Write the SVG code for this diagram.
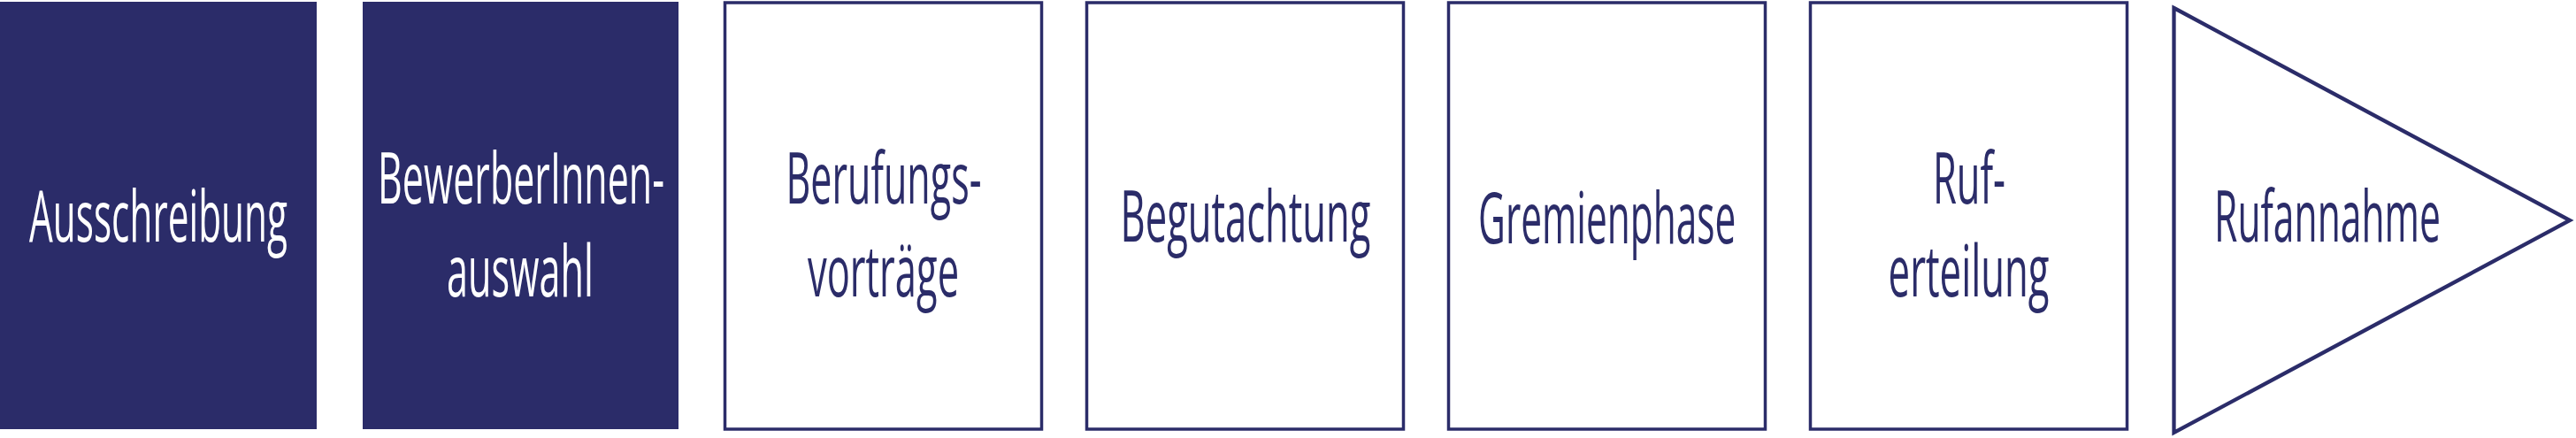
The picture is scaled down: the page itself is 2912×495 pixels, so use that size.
<svg xmlns="http://www.w3.org/2000/svg" width="2912" height="495" viewBox="0 0 2912 495">
<style>
.fill{fill:#2b2c69;stroke:none}
.box{fill:#ffffff;stroke:#2b2c69;stroke-width:3.5}
.tri{fill:#ffffff;stroke:#2b2c69;stroke-width:4.3;stroke-linejoin:miter;stroke-miterlimit:10}
text{font-family:"Open Sans","Noto Sans","DejaVu Sans",sans-serif;font-size:80px;text-anchor:middle}
.w{fill:#ffffff}
.d{fill:#2b2c69}
</style>
<rect x="0" y="0" width="2912" height="495" fill="#ffffff"/>
<g id="connectors"></g>
<g id="n1">
<rect class="fill" x="0" y="2" width="358" height="483"/>
<text class="w" transform="translate(179,273) scale(0.52,1)" x="0" y="0" textLength="561.5" lengthAdjust="spacingAndGlyphs">Ausschreibung</text>
</g>
<g id="n2">
<rect class="fill" x="410" y="2" width="357" height="483"/>
<text class="w" transform="translate(589,230) scale(0.52,1)" x="0" y="0" textLength="623" lengthAdjust="spacingAndGlyphs">BewerberInnen-</text>
<text class="w" transform="translate(588,335) scale(0.52,1)" x="0" y="0" textLength="319" lengthAdjust="spacingAndGlyphs">auswahl</text>
</g>
<g id="n3">
<rect class="box" x="819.5" y="3" width="358" height="482"/>
<text class="d" transform="translate(999,230) scale(0.52,1)" x="0" y="0" textLength="425" lengthAdjust="spacingAndGlyphs">Berufungs-</text>
<text class="d" transform="translate(998.5,335) scale(0.52,1)" x="0" y="0" textLength="329" lengthAdjust="spacingAndGlyphs">vorträge</text>
</g>
<g id="n4">
<rect class="box" x="1228.5" y="3" width="358" height="482"/>
<text class="d" transform="translate(1408,273) scale(0.52,1)" x="0" y="0" textLength="544" lengthAdjust="spacingAndGlyphs">Begutachtung</text>
</g>
<g id="n5">
<rect class="box" x="1637.5" y="3" width="358" height="482"/>
<text class="d" transform="translate(1816.7,275) scale(0.52,1)" x="0" y="0" textLength="560" lengthAdjust="spacingAndGlyphs">Gremienphase</text>
</g>
<g id="n6">
<rect class="box" x="2046.5" y="3" width="358" height="482"/>
<text class="d" transform="translate(2226,230) scale(0.52,1)" x="0" y="0" textLength="158" lengthAdjust="spacingAndGlyphs">Ruf-</text>
<text class="d" transform="translate(2225.6,335) scale(0.52,1)" x="0" y="0" textLength="350" lengthAdjust="spacingAndGlyphs">erteilung</text>
</g>
<g id="n7">
<polygon class="tri" points="2457.5,9 2905,249 2457.5,489"/>
<text class="d" transform="translate(2631,273) scale(0.52,1)" x="0" y="0" textLength="492" lengthAdjust="spacingAndGlyphs">Rufannahme</text>
</g>
</svg>
